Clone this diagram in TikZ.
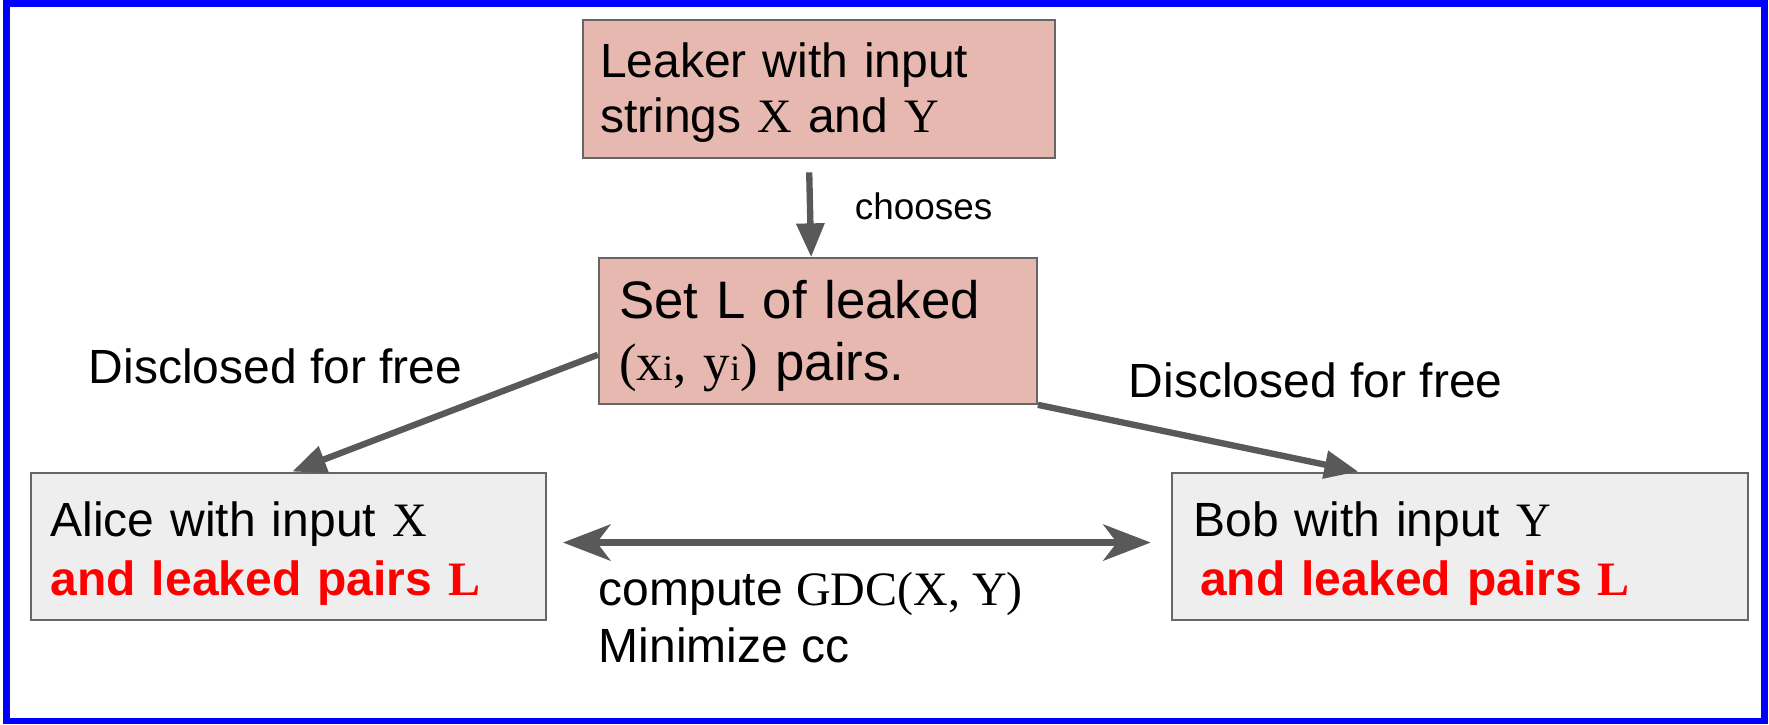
\documentclass[tikz,border=0pt]{standalone}
\usepackage{fontspec}
\setmainfont{Liberation Sans}
\newfontfamily\timesfont{Liberation Serif}
\usetikzlibrary{arrows.meta,positioning}
\definecolor{frameblue}{HTML}{0000FF}
\definecolor{leakpink}{HTML}{E6B8AF}
\definecolor{partygray}{HTML}{EEEEEE}
\definecolor{edgegray}{HTML}{666666}
\definecolor{arrowgray}{HTML}{595959}
\definecolor{leakred}{HTML}{FF0000}
\newcommand{\tm}[1]{{\timesfont #1}}
\newcommand{\sub}[1]{{\fontsize{9pt}{9pt}\selectfont #1}}
\tikzset{
  frame/.style={draw=frameblue, line width=1.7pt},
  box/.style={draw=edgegray, line width=0.5pt, anchor=north west, inner ysep=0pt, align=left},
  leakbox/.style={box, fill=leakpink},
  partybox/.style={box, fill=partygray},
  link/.style={draw=arrowgray, line width=1.6pt, -{Triangle[length=0.3cm,width=0.24cm]}},
  both/.style={draw=arrowgray, line width=1.7pt,
    {Stealth[length=0.42cm,width=0.32cm,inset=0.12cm]}-{Stealth[length=0.42cm,width=0.32cm,inset=0.12cm]}},
  lab/.style={inner sep=0pt, font=\fontsize{12.1pt}{14.2pt}\selectfont},
  small/.style={inner sep=0pt, font=\fontsize{9.3pt}{11pt}\selectfont},
}

\begin{document}
\begin{tikzpicture}[x=0.01cm,y=-0.01cm]
  \useasboundingbox (0,0) rectangle (1568,642);
  \draw[frame] (6,3) rectangle (1564,639);

  \node[leakbox, inner xsep=0.15cm, text width=3.88cm, text height=0.51cm, text depth=0.71cm,
        font=\fontsize{12.1pt}{13.9pt}\selectfont] (leaker) at (516,17)
    {Leaker with input\\strings \tm{X} and \tm{Y}};
  \node[leakbox, inner xsep=0.18cm, text width=3.52cm, text height=0.53cm, text depth=0.76cm,
        font=\fontsize{13.3pt}{15.7pt}\selectfont] (setl) at (530,228)
    {Set L of leaked\\\tm{(x\sub{i}, y\sub{i})} pairs.};
  \node[partybox, inner xsep=0.17cm, text width=4.22cm, text height=0.57cm, text depth=0.74cm,
        font=\fontsize{12.1pt}{14.8pt}\selectfont] (alice) at (27,418)
    {Alice with input \tm{X}\\{\color{leakred}\bfseries and leaked pairs \tm{L}}};
  \node[partybox, inner xsep=0.19cm, text width=4.72cm, text height=0.57cm, text depth=0.74cm,
        font=\fontsize{12.1pt}{14.8pt}\selectfont] (bob) at (1038,418)
    {Bob with input \tm{Y}\\\hspace*{0.06cm}{\color{leakred}\bfseries and leaked pairs \tm{L}}};

  \draw[link, shorten <=0.12cm] ([xshift=-0.09cm]leaker.south) -- ([xshift=-0.06cm]setl.north)
    node[small, pos=0.48, right=0.37cm] (choose) {chooses};
  \draw[link] ([yshift=-0.21cm]setl.west) -- ([xshift=0.03cm]alice.north);
  \draw[link] (setl.south east) -- ([xshift=-0.9cm]bob.north);
  \draw[both, shorten <=0.14cm, shorten >=0.18cm] ([yshift=0.035cm]alice.east) -- ([yshift=0.035cm]bob.west);

  \foreach \n/\x/\y in {discl/78/340, discr/1000/352}
    \node[lab, anchor=base west] (\n) at (\x,\y) {Disclosed for free};
  \node[lab, anchor=base west, align=left] (task) at (530,587)
    {compute \tm{GDC(X, Y)}\\Minimize cc};
\end{tikzpicture}
\end{document}
